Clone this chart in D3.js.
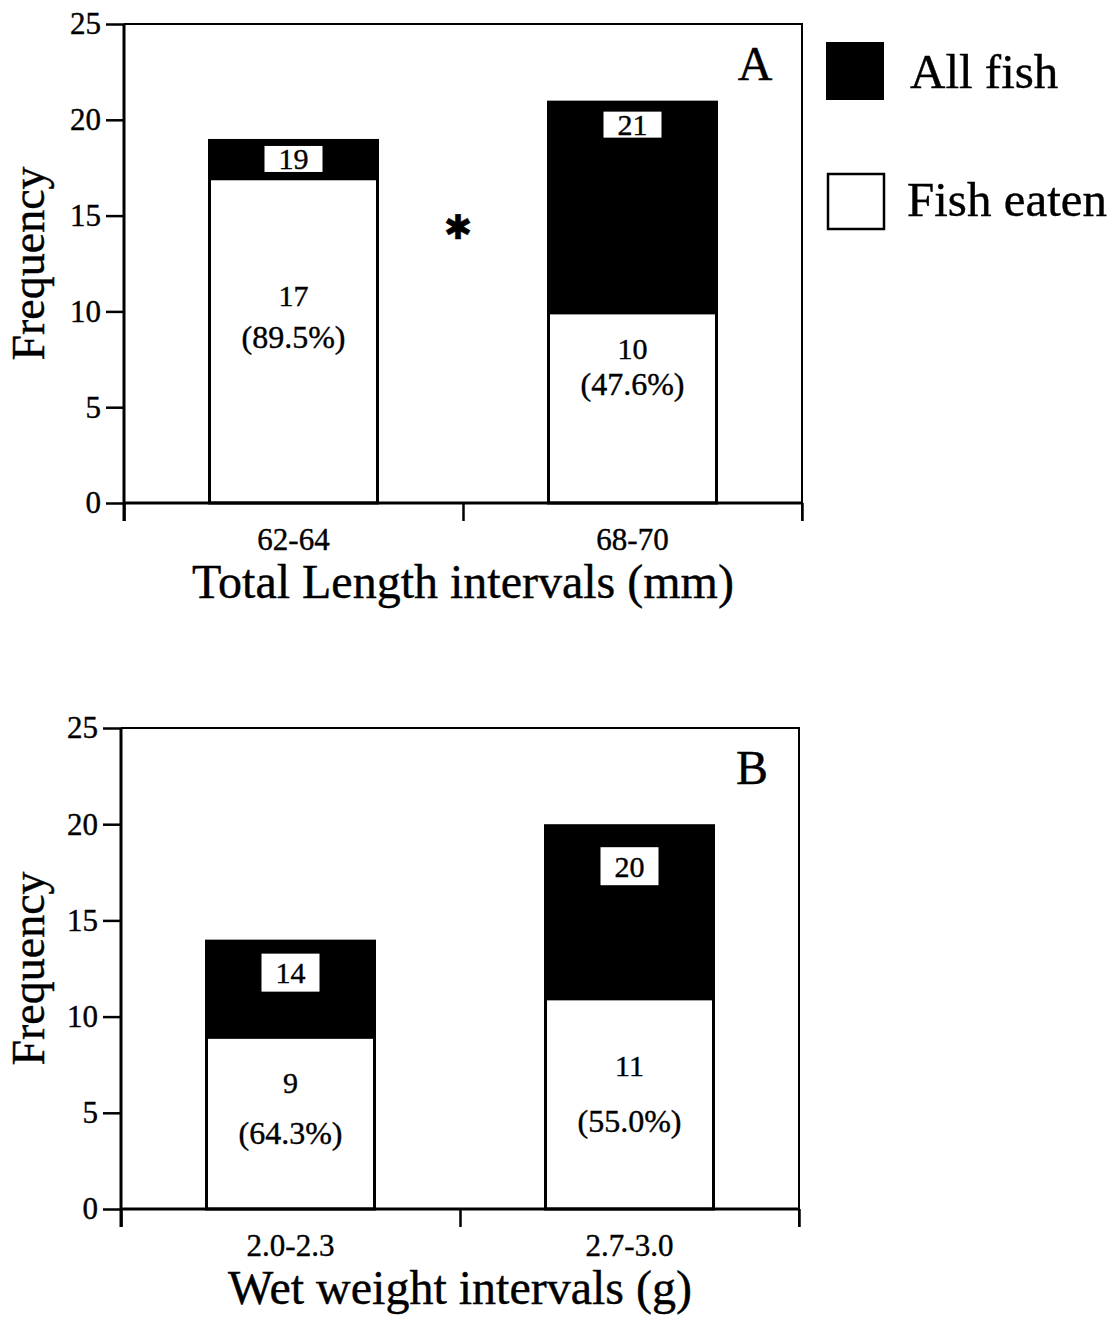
<!DOCTYPE html>
<html lang="en">
<head>
<meta charset="UTF-8">
<title>Fish eaten by size</title>
<script src="https://cdn.jsdelivr.net/npm/d3@7"></script>
<style>
    body { margin: 0; background: #fff; }
    svg { display: block; font-family: "Liberation Serif", "Times New Roman", serif; }
    text { fill: #000; stroke: #000; stroke-width: 0.4px; }
</style>
</head>
<body>
<script>
// data
var lengthIntervals = ["62-64", "68-70"];
var lengthAllFish = [19, 21];
var lengthFishEaten = [17, 10];
var lengthEatenPct = [89.5, 47.6];

var weightIntervals = ["2.0-2.3", "2.7-3.0"];
var weightAllFish = [14, 20];
var weightFishEaten = [9, 11];
var weightEatenPct = [64.3, 55.0];

var yTicks = [0, 5, 10, 15, 20, 25];
var legendLabels = ["All fish", "Fish eaten"];

var W = 1118, H = 1317;

var svg = d3.select("body").append("svg")
    .attr("width", W)
    .attr("height", H);

// layout of each panel (pixels)
var panelA = {
    letter: "A", title: "Total Length intervals (mm)",
    cats: lengthIntervals, all: lengthAllFish, eaten: lengthFishEaten, pct: lengthEatenPct,
    left: 124, right: 802, top: 24, bottom: 503,
    boxTop: [7, 11], boxH: 26,
    countUp: [208, 155], pctUp: [166, 119],
    star: true
};
var panelB = {
    letter: "B", title: "Wet weight intervals (g)",
    cats: weightIntervals, all: weightAllFish, eaten: weightFishEaten, pct: weightEatenPct,
    left: 121, right: 799, top: 728, bottom: 1209,
    boxTop: [14, 23], boxH: 38,
    countUp: [127, 144], pctUp: [76, 88],
    star: false
};

function drawPanel(p) {
    var g = svg.append("g");

    var y = d3.scaleLinear().domain([0, 25]).range([p.bottom, p.top]);
    var x = d3.scaleBand().domain(p.cats)
        .range([p.left, p.right])
        .paddingInner(0.4956)
        .paddingOuter(0.2478);
    var xEdge = d3.scaleLinear().domain([0, p.cats.length]).range([p.left, p.right]);

    var rows = p.cats.map(function(c, i) {
        return {cat: c, all: p.all[i], eaten: p.eaten[i], pct: p.pct[i], i: i};
    });

    // frame top + right
    g.append("path")
        .attr("d", "M" + p.left + "," + p.top + "H" + p.right + "V" + (p.bottom + 18))
        .attr("fill", "none")
        .attr("stroke", "#000")
        .attr("stroke-width", 2);

    // all fish (black)
    g.selectAll("rect.all")
        .data(rows)
        .join("rect")
        .attr("class", "all")
        .attr("x", d => x(d.cat))
        .attr("y", d => y(d.all))
        .attr("width", x.bandwidth())
        .attr("height", d => y(0) - y(d.all))
        .attr("fill", "#000");

    // fish eaten (white with outline)
    g.selectAll("rect.eaten")
        .data(rows)
        .join("rect")
        .attr("class", "eaten")
        .attr("x", d => x(d.cat) + 1.5)
        .attr("y", d => y(d.eaten) + 1.5)
        .attr("width", x.bandwidth() - 3)
        .attr("height", d => y(0) - y(d.eaten) - 1.5)
        .attr("fill", "#fff")
        .attr("stroke", "#000")
        .attr("stroke-width", 3);

    // white boxes with totals
    var boxes = g.selectAll("g.total")
        .data(rows)
        .join("g")
        .attr("class", "total");
    boxes.append("rect")
        .attr("x", d => x(d.cat) + x.bandwidth() / 2 - 29)
        .attr("y", d => y(d.all) + p.boxTop[d.i])
        .attr("width", 58)
        .attr("height", p.boxH)
        .attr("fill", "#fff");
    boxes.append("text")
        .attr("x", d => x(d.cat) + x.bandwidth() / 2)
        .attr("y", d => y(d.all) + p.boxTop[d.i] + p.boxH / 2)
        .attr("dy", "0.35em")
        .attr("text-anchor", "middle")
        .style("font-size", "30px")
        .text(d => d.all);

    // eaten counts and percentages
    g.selectAll("text.count")
        .data(rows)
        .join("text")
        .attr("class", "count")
        .attr("x", d => x(d.cat) + x.bandwidth() / 2)
        .attr("y", d => p.bottom - p.countUp[d.i])
        .attr("dy", "0.35em")
        .attr("text-anchor", "middle")
        .style("font-size", "30px")
        .text(d => d.eaten);
    g.selectAll("text.pct")
        .data(rows)
        .join("text")
        .attr("class", "pct")
        .attr("x", d => x(d.cat) + x.bandwidth() / 2)
        .attr("y", d => p.bottom - p.pctUp[d.i])
        .attr("dy", "0.35em")
        .attr("text-anchor", "middle")
        .style("font-size", "32px")
        .text(d => "(" + d.pct.toFixed(1) + "%)");

    // y axis
    var yAxis = g.append("g")
        .attr("transform", "translate(" + p.left + ",0)")
        .call(d3.axisLeft(y).tickValues(yTicks).tickSize(18).tickPadding(5).tickSizeOuter(0));
    yAxis.select(".domain").remove();
    yAxis.selectAll(".tick line").attr("stroke-width", 2.5);
    yAxis.selectAll(".tick text").style("font-size", "31px").style("font-family", "Liberation Serif");

    // x axis: edge ticks
    var xAxis = g.append("g")
        .attr("transform", "translate(0," + p.bottom + ")")
        .call(d3.axisBottom(xEdge).tickValues(d3.range(p.cats.length + 1)).tickSize(18).tickFormat(""));
    xAxis.select(".domain").remove();
    xAxis.selectAll(".tick line").attr("stroke-width", 2.5);

    // category labels
    var xCat = g.append("g")
        .attr("transform", "translate(0," + p.bottom + ")")
        .call(d3.axisBottom(x).tickSize(0).tickPadding(25));
    xCat.select(".domain").remove();
    xCat.selectAll(".tick text").style("font-size", "31px").style("font-family", "Liberation Serif");

    // axis lines
    g.append("line")
        .attr("x1", p.left).attr("x2", p.left)
        .attr("y1", p.top).attr("y2", p.bottom + 18)
        .attr("stroke", "#000").attr("stroke-width", 3);
    g.append("line")
        .attr("x1", p.left).attr("x2", p.right)
        .attr("y1", p.bottom).attr("y2", p.bottom)
        .attr("stroke", "#000").attr("stroke-width", 3);

    // titles
    g.append("text")
        .attr("x", (p.left + p.right) / 2)
        .attr("y", p.bottom + 95)
        .attr("text-anchor", "middle")
        .style("font-size", "48px")
        .text(p.title);
    g.append("text")
        .attr("transform", "translate(44," + (p.top + p.bottom) / 2 + ") rotate(-90)")
        .attr("text-anchor", "middle")
        .style("font-size", "46px")
        .text("Frequency");

    // panel letter
    g.append("text")
        .attr("x", p.right - 47)
        .attr("y", p.top + 56)
        .attr("text-anchor", "middle")
        .style("font-size", "48px")
        .text(p.letter);

    if (p.star) {
        g.append("text")
            .attr("x", xEdge(1) - 5)
            .attr("y", y(14.4))
            .attr("dy", "0.35em")
            .attr("text-anchor", "middle")
            .style("font-family", "DejaVu Sans")
            .style("font-size", "34px")
            .text("\u2731");
    }
}

drawPanel(panelA);
drawPanel(panelB);

// legend
var legend = svg.append("g").attr("transform", "translate(826,0)");
legend.append("rect")
    .attr("x", 0).attr("y", 42)
    .attr("width", 58).attr("height", 58)
    .attr("fill", "#000");
legend.append("rect")
    .attr("x", 2).attr("y", 174)
    .attr("width", 56).attr("height", 55)
    .attr("fill", "#fff")
    .attr("stroke", "#000")
    .attr("stroke-width", 2.5);
legend.selectAll("text.leg")
    .data(legendLabels)
    .join("text")
    .attr("class", "leg")
    .attr("x", (d, i) => i === 0 ? 84 : 81)
    .attr("y", (d, i) => i === 0 ? 88 : 216)
    .style("font-size", "49px")
    .text(d => d);
</script>
</body>
</html>
